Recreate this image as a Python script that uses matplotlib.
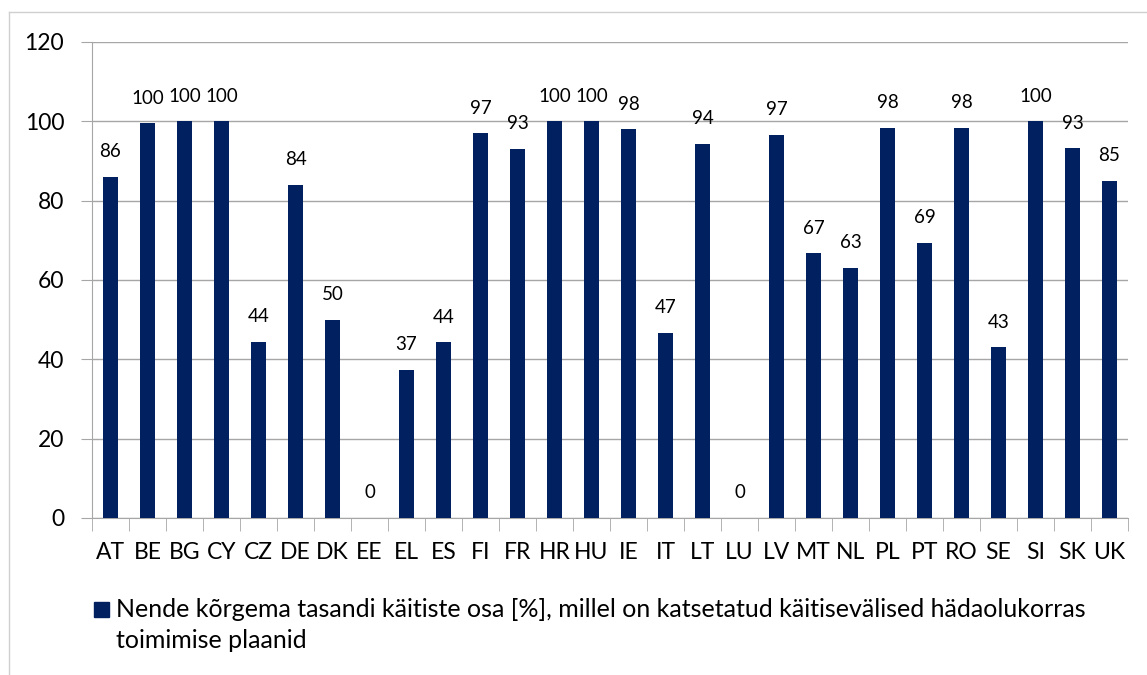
import numpy as np
import matplotlib.pyplot as plt
from matplotlib.patches import Rectangle
from matplotlib.lines import Line2D

countries = ['AT', 'BE', 'BG', 'CY', 'CZ', 'DE', 'DK', 'EE', 'EL', 'ES', 'FI', 'FR', 'HR', 'HU',
             'IE', 'IT', 'LT', 'LU', 'LV', 'MT', 'NL', 'PL', 'PT', 'RO', 'SE', 'SI', 'SK', 'UK']
values = [86, 99.5, 100, 100, 44.4, 84, 50, 0, 37.3, 44.3, 97, 93, 100, 100,
          98, 46.7, 94.4, 0, 96.6, 66.7, 63, 98.3, 69.4, 98.3, 43, 100, 93.2, 85]
series_name = 'Nende kõrgema tasandi käitiste osa [%], millel on katsetatud käitisevälised hädaolukorras\ntoimimise plaanid'

plt.rcParams['font.family'] = ['Lato', 'DejaVu Sans']
navy = '#002060'
grey = '#a6a6a6'

fig = plt.figure(figsize=(11.47, 6.75), dpi=100)
ax = fig.add_axes([92/1147, 1 - 518/675, (1128-92)/1147, (518-42)/675])

x = np.arange(len(countries))
ax.bar(x, values, width=0.4, color=navy, zorder=3)
for xi, v in zip(x, values):
    ax.annotate('%d' % round(v), (xi, v), xytext=(0, 12), textcoords='offset points',
                ha='center', va='bottom', fontsize=13.5)

ax.set_xlim(-0.5, len(countries) - 0.5)
ax.set_ylim(0, 120)
ax.set_yticks(np.arange(0, 121, 20))
ax.tick_params(axis='y', labelsize=16.5, length=8, color=grey, pad=12)
ax.yaxis.grid(True, color=grey, linewidth=1, zorder=0)

ax.set_xticks(x)
ax.set_xticklabels(countries)
ax.tick_params(axis='x', which='major', length=0, labelsize=16.5, pad=17)
ax.set_xticks(np.arange(-0.5, len(countries), 1), minor=True)
ax.tick_params(axis='x', which='minor', length=9, color=grey)

for s in ['top', 'right']:
    ax.spines[s].set_visible(False)
for s in ['left', 'bottom']:
    ax.spines[s].set_color(grey)

# legend below the plot (two lines, like the wrapped excel legend)
fig.patches.append(Rectangle((94/1147, 1 - 617/675), 15/1147, 15/675,
                             transform=fig.transFigure, color=navy))
for i, line in enumerate(series_name.split('\n')):
    fig.text(116/1147, 1 - (617 + 31*i)/675, line, fontsize=18, va='baseline', ha='left')

# chart border
fig.lines.append(Line2D([9/1147, 9/1147], [0, 1 - 12/675], transform=fig.transFigure,
                        color='#d0d0d0', linewidth=1))
fig.lines.append(Line2D([9/1147, 1], [1 - 12/675, 1 - 12/675], transform=fig.transFigure,
                        color='#d0d0d0', linewidth=1))

fig.savefig('out.png', dpi=100)
